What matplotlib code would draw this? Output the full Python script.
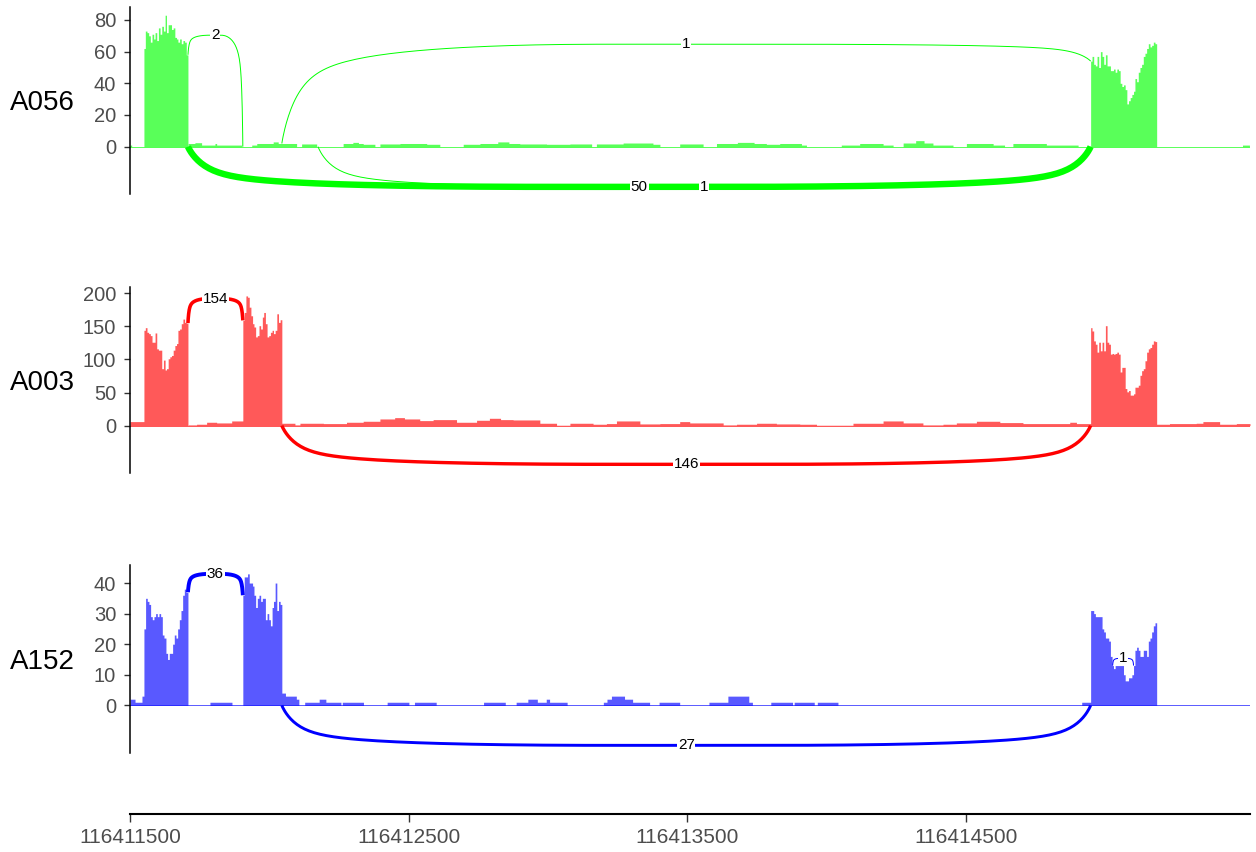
import numpy as np
import matplotlib
matplotlib.use("Agg")
import matplotlib.pyplot as plt

plt.rcParams['font.family'] = ['Liberation Sans', 'DejaVu Sans']

# region shown on the x axis
start, end = 116411500, 116415520
xticks = [116411500, 116412500, 116413500, 116414500]

samples = ['A056', 'A003', 'A152']
colours = ['#00FF00', '#FF0000', '#0000FF']

# exons (genomic start, end)
exon1 = (116411550, 116411708)
exon2 = (116411905, 116412045)
exon3 = (116414948, 116415185)

# binned read coverage over the exons
a056_exon1 = [62, 73, 72, 70, 66, 71, 68, 72, 67, 75, 71, 76, 73, 83, 72, 77, 77, 74, 75, 69,
              68, 66, 68, 65, 67, 66, 58]
a056_exon3 = [54, 57, 52, 51, 57, 50, 60, 57, 52, 58, 51, 51, 48, 48, 49, 47, 49, 48, 40, 38,
              39, 36, 27, 29, 31, 33, 35, 43, 41, 47, 50, 52, 57, 59, 62, 65, 63, 64, 66, 65]
a003_exon1 = [144, 148, 141, 139, 136, 126, 126, 140, 116, 114, 114, 86, 99, 84, 86, 101, 104,
              106, 114, 121, 124, 144, 146, 154, 161, 156, 155]
a003_exon2 = [159, 171, 196, 194, 179, 166, 154, 149, 134, 136, 151, 146, 164, 171, 154, 134,
              136, 141, 144, 139, 144, 169, 156, 160]
a003_exon3 = [148, 143, 128, 123, 111, 126, 113, 126, 113, 151, 126, 123, 108, 109, 108, 109,
              111, 108, 81, 88, 88, 56, 51, 53, 46, 46, 48, 58, 58, 61, 76, 83, 86, 98, 111, 116,
              118, 123, 128, 127]
a152_exon1 = [25, 35, 34, 33, 29, 28, 29, 30, 29, 30, 29, 23, 22, 17, 15, 17, 17, 20, 23, 22,
              25, 28, 31, 36, 38, 37]
a152_exon2 = [36, 42, 42, 43, 40, 40, 39, 36, 32, 35, 36, 34, 35, 35, 28, 30, 28, 26, 32, 34,
              40, 31, 34, 33]
a152_exon3 = [31, 31, 30, 29, 29, 29, 29, 25, 24, 22, 22, 21, 16, 13, 12, 13, 13, 13, 13, 13,
              10, 8, 8, 9, 9, 10, 13, 18, 19, 18, 16, 16, 18, 18, 16, 21, 22, 24, 26, 27]

# low background coverage: (from, to, depth), positions relative to 116411500
a056_bg = [(0, 6, 1), (209, 233, 2), (233, 257, 2.5), (257, 305, 1), (305, 311, 2),
           (311, 401, 1), (437, 455, 1), (455, 514, 2), (514, 532, 3), (532, 598, 2),
           (616, 670, 1.7), (765, 800, 2), (800, 820, 2.7), (820, 837, 2), (837, 879, 1.5),
           (897, 969, 1.7), (969, 1065, 2), (1065, 1112, 1.5), (1196, 1256, 1.5),
           (1256, 1320, 2), (1320, 1360, 3), (1360, 1399, 2), (1399, 1495, 1.7),
           (1495, 1579, 1.5), (1579, 1657, 1.7), (1674, 1770, 1.7), (1770, 1877, 2.3),
           (1877, 1902, 1.5), (1973, 2057, 1.7), (2105, 2180, 2), (2180, 2240, 2.7),
           (2240, 2284, 2), (2284, 2332, 1.5), (2332, 2410, 2), (2410, 2428, 1),
           (2553, 2619, 1), (2619, 2703, 2), (2703, 2739, 1), (2775, 2820, 2.3),
           (2820, 2850, 3.8), (2850, 2882, 2.3), (2882, 2954, 1), (3002, 3098, 2),
           (3098, 3139, 1), (3169, 3289, 2), (3289, 3403, 1), (3993, 4018, 1)]
a003_bg = [(0, 50, 6), (209, 239, 1), (239, 275, 2), (275, 311, 5), (311, 365, 4),
           (365, 405, 7), (545, 592, 3.5), (592, 610, 1), (610, 694, 3.5), (694, 777, 3),
           (777, 837, 5), (837, 897, 6.5), (897, 950, 10), (950, 985, 12), (985, 1040, 10),
           (1040, 1088, 7.5), (1088, 1172, 9), (1172, 1244, 5), (1244, 1290, 8),
           (1290, 1330, 11), (1330, 1375, 9), (1375, 1471, 8.5), (1471, 1531, 3.5),
           (1531, 1579, 0.5), (1579, 1662, 3.5), (1662, 1710, 2), (1710, 1746, 3),
           (1746, 1830, 7), (1830, 1902, 2.5), (1902, 1973, 3), (1973, 2009, 6),
           (2009, 2129, 4), (2129, 2177, 1), (2177, 2249, 2), (2249, 2320, 3.5),
           (2320, 2404, 2.5), (2404, 2464, 2), (2464, 2595, 0.5), (2595, 2703, 3.5),
           (2703, 2775, 7), (2775, 2846, 4), (2846, 2918, 1), (2918, 2966, 2),
           (2966, 3038, 4), (3038, 3122, 6.5), (3122, 3205, 4.5), (3205, 3373, 3),
           (3373, 3397, 5), (3397, 3448, 3), (3685, 3731, 2), (3731, 3827, 3),
           (3827, 3851, 3.5), (3851, 3911, 6), (3911, 3971, 2), (3971, 4020, 3)]
a152_bg = [(0, 18, 2), (18, 43, 1), (43, 50, 3), (287, 366, 1), (545, 558, 4),
           (558, 597, 3), (597, 606, 2), (627, 679, 1), (679, 703, 2), (703, 757, 1),
           (762, 838, 1), (923, 1001, 1), (1021, 1099, 1), (1269, 1347, 1), (1386, 1428, 1),
           (1428, 1462, 2), (1462, 1494, 1), (1494, 1506, 2), (1506, 1569, 1),
           (1699, 1712, 1), (1712, 1728, 2), (1728, 1775, 3), (1775, 1804, 2),
           (1804, 1865, 1), (1899, 1973, 1), (2078, 2146, 1), (2146, 2221, 3),
           (2221, 2234, 1), (2300, 2378, 1), (2384, 2456, 1), (2467, 2541, 1),
           (3416, 3448, 1)]

# splice junctions: (donor, acceptor, reads)
a056_junc = [(116411708, 116411905, 2), (116412045, 116414948, 1),
             (116411708, 116414948, 50), (116412175, 116414948, 1)]
a003_junc = [(116411708, 116411905, 154), (116412045, 116414948, 146)]
a152_junc = [(116411708, 116411905, 36), (116412045, 116414948, 27),
             (116415027, 116415102, 1)]
# height of each arc apex (negative = drawn below the track)
a056_arc_y = [70.4, 64.7, -25.4, -25.4]
a003_arc_y = [192, -58.6]
a152_arc_y = [43, -13.1, 15.4]

tracks = [
    (a056_bg, {exon1: a056_exon1, exon3: a056_exon3}, a056_junc, a056_arc_y),
    (a003_bg, {exon1: a003_exon1, exon2: a003_exon2, exon3: a003_exon3}, a003_junc, a003_arc_y),
    (a152_bg, {exon1: a152_exon1, exon2: a152_exon2, exon3: a152_exon3}, a152_junc, a152_arc_y),
]
ylims = [(-29.9, 88.2), (-71.7, 209.5), (-15.6, 45.9)]
yticks = [[0, 20, 40, 60, 80], [0, 50, 100, 150, 200], [0, 10, 20, 30, 40]]
panel_px = [(7, 194), (287, 473), (565, 753)]


def build_coverage(bg, exons):
    cov = np.zeros(end - start + 1)
    for a, b, v in bg:
        cov[a:b] = v
    for (s, e), vals in exons.items():
        edges = np.linspace(s - start, e - start, len(vals) + 1).astype(int)
        for i, v in enumerate(vals):
            cov[edges[i]:edges[i + 1]] = v
    return cov


def xspline_f(u, p):
    return u ** 3 * (10 - p + (2 * p - 15) * u + (6 - p) * u ** 2)


def half_arc(x0, y0, x1, y1, n=120):
    # open x-spline (shape 1, repeated end points) through the corner (0,1)
    Q = np.array([[0, 0], [0, 0], [0, 1], [1, 1], [1, 1], [1, 1]], float)
    sh = [0, 0, 1, 1, 0, 0]
    t = np.linspace(1, 4, n)
    W = np.zeros((len(Q), n))
    for k in range(len(Q)):
        tm = k - 1 - sh[k - 1] if k > 0 else k - 1
        tp = k + 1 + sh[k + 1] if k < len(Q) - 1 else k + 1
        lm = (t > tm) & (t <= k)
        rm = (t > k) & (t < tp)
        W[k, lm] = xspline_f((t[lm] - tm) / (k - tm), 2 * (k - tm) ** 2)
        W[k, rm] = xspline_f((t[rm] - tp) / (k - tp), 2 * (tp - k) ** 2)
    pts = (W.T @ Q) / W.sum(axis=0)[:, None]
    return x0 + pts[:, 0] * (x1 - x0), y0 + pts[:, 1] * (y1 - y0)


W, H = 1256, 852
fig = plt.figure(figsize=(W / 100, H / 100), dpi=100)
left, right = 130 / W, 1250 / W

x = np.arange(start, end + 1)
for k, (bg, exons, junc, arc_y) in enumerate(tracks):
    top, bot = panel_px[k]
    ax = fig.add_axes([left, 1 - bot / H, right - left, (bot - top) / H])
    col = colours[k]
    cov = build_coverage(bg, exons)
    ax.fill_between(x, cov, step='post', color=col, alpha=0.65, lw=0)
    ax.plot([start, end], [0, 0], color=col, alpha=0.65, lw=0.7)

    total = sum(j[2] for j in junc)
    for (d, a, n), ym in zip(junc, arc_y):
        xm = (d + a) / 2
        if ym > 0:
            y0, y1 = cov[d - start - 1], cov[a - start]
        else:
            y0 = y1 = 0
        lx, ly = half_arc(d, y0, xm, ym)
        rx, ry = half_arc(a, y1, xm, ym)
        lw = max(0.7, 5 * n / total)
        ax.plot(np.concatenate([lx, rx[::-1]]), np.concatenate([ly, ry[::-1]]),
                color=col, lw=lw, solid_capstyle='butt', zorder=3)
        ax.text(xm, ym, str(n), ha='center', va='center', fontsize=11, color='black',
                zorder=5, bbox=dict(facecolor='white', edgecolor='none', pad=0.6))

    ax.set_xlim(start, end)
    ax.set_ylim(*ylims[k])
    ax.set_yticks(yticks[k])
    ax.set_xticks([])
    for s in ['top', 'right', 'bottom']:
        ax.spines[s].set_visible(False)
    ax.spines['left'].set_linewidth(1.1)
    ax.tick_params(axis='y', labelsize=14.5, labelcolor='#4D4D4D', length=4, width=1.0,
                   pad=6, color='#333333')
    fig.text(10 / W, 1 - ((top + bot) / 2 + 3) / H, samples[k], fontsize=20,
             ha='left', va='center')

# shared genomic coordinate axis
axx = fig.add_axes([left, 1 - 814 / H, right - left, 0.0001])
axx.set_xlim(start, end)
axx.set_xticks(xticks)
axx.set_xticklabels([str(t) for t in xticks])
axx.set_yticks([])
for s in ['top', 'right', 'left']:
    axx.spines[s].set_visible(False)
axx.spines['bottom'].set_linewidth(1.5)
axx.tick_params(axis='x', labelsize=15, labelcolor='#4D4D4D', length=6, width=1.0,
                pad=4, color='#333333')

fig.savefig('out.png', dpi=100)
